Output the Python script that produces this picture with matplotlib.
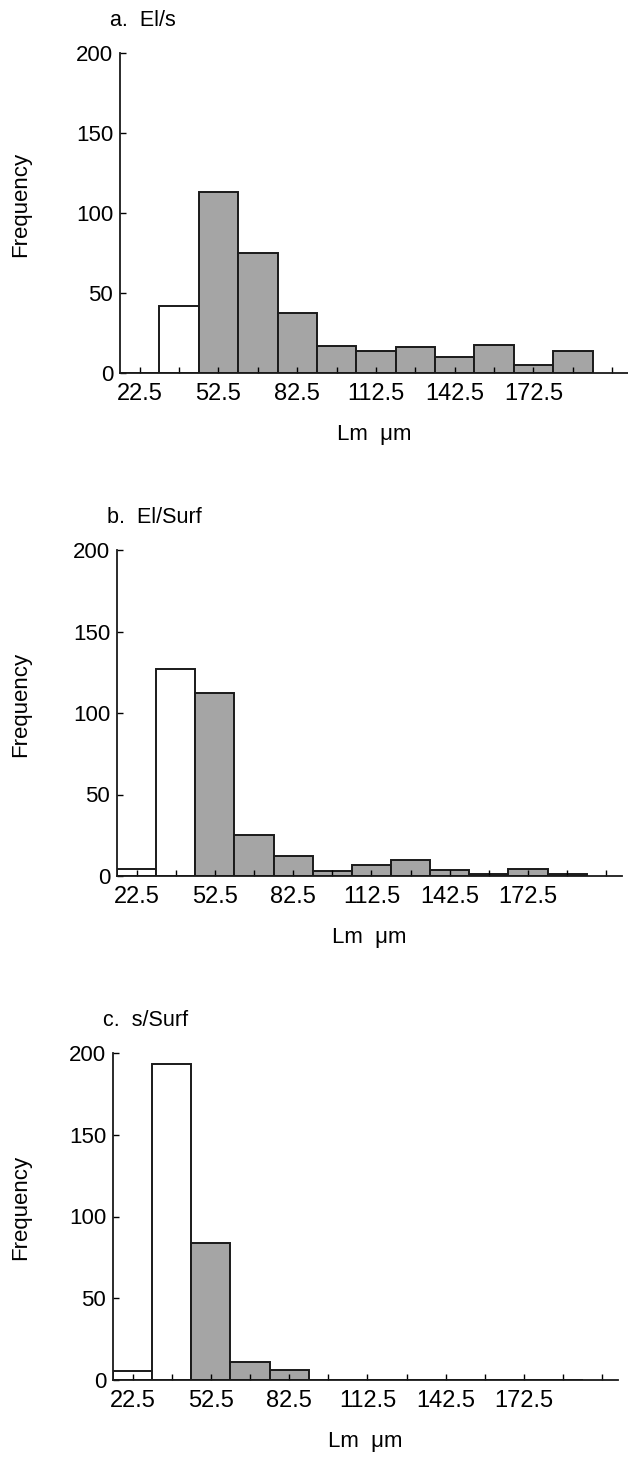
import numpy as np
import matplotlib.pyplot as plt

plt.rcParams['font.family'] = ['Liberation Sans', 'DejaVu Sans']

# bin centres (Lm, um), width 15
bins = [22.5, 37.5, 52.5, 67.5, 82.5, 97.5, 112.5, 127.5, 142.5, 157.5, 172.5, 187.5]
# first two bins are drawn open (white), the rest shaded
open_bins = 2

freq_a = [0, 42, 113, 75, 37.5, 17, 14, 16, 10, 17.5, 5, 13.5]
freq_b = [4.5, 127, 112.5, 25, 12, 3, 6.5, 10, 3.5, 1, 4.5, 1.5]
freq_c = [5.5, 193, 84, 11, 6, 0, 0, 0, 0, 0, 0, 0]

titles = ['a.  El/s', 'b.  El/Surf', 'c.  s/Surf']
tick_pos = np.arange(22.5, 203, 15)
tick_lab = ['22.5', '', '52.5', '', '82.5', '', '112.5', '', '142.5', '', '172.5', '', '']

W, H = 628, 1457
fig = plt.figure(figsize=(W / 100, H / 100), dpi=100)

# axes boxes in pixels: left, top, right, bottom
boxes = [(120, 53, 628, 373), (117, 550, 622, 876), (113, 1053, 618, 1380)]

for data, title, (l, t, r, b) in zip([freq_a, freq_b, freq_c], titles, boxes):
    ax = fig.add_axes([l / W, 1 - b / H, (r - l) / W, (b - t) / H])
    colors = ['white'] * open_bins + ['#a5a5a5'] * (len(bins) - open_bins)
    ax.bar(bins, data, width=15, color=colors, edgecolor='#1a1a1a', linewidth=1.4)
    ax.set_xlim(15, 208.5)
    ax.set_ylim(0, 200)
    ax.spines['top'].set_visible(False)
    ax.spines['right'].set_visible(False)
    for s in ['left', 'bottom']:
        ax.spines[s].set_linewidth(1.3)
        ax.spines[s].set_color('#1a1a1a')
    ax.set_yticks([0, 50, 100, 150, 200])
    ax.set_xticks(tick_pos)
    ax.set_xticklabels(tick_lab)
    ax.tick_params(axis='x', direction='in', length=4, width=1, labelsize=17, pad=7)
    ax.tick_params(axis='y', direction='in', length=4, width=1, labelsize=16, pad=5)
    ax.set_xlabel('Lm  \u03bcm', fontsize=16, labelpad=14)
    fig.text(21 / W, 1 - ((t + b) / 2 - 9) / H, 'Frequency', rotation=90,
             fontsize=16, ha='center', va='center')
    ax.text(-10 / (r - l), 1 + 22 / (b - t), title, transform=ax.transAxes,
            fontsize=15.5, ha='left', va='bottom')

fig.savefig('out.png', dpi=100)
